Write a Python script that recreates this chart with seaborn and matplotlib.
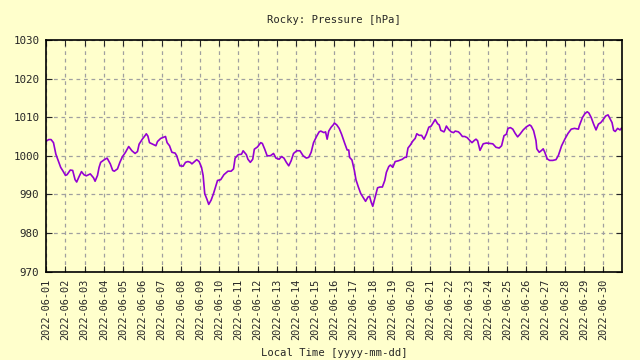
import pandas as pd
import numpy as np
import matplotlib
matplotlib.use('Agg')
import matplotlib.pyplot as plt
import matplotlib.dates as mdates
import seaborn as sns

# hours since 2022-06-01 00:00 and pressure
hours = [0, 3, 6, 9, 12, 15, 18, 21, 24, 26, 30, 33, 36, 38, 41, 44, 47, 50, 55, 59,
         61, 64, 66, 68, 72, 76, 80, 83, 85, 89, 92, 95, 99, 103, 107, 111, 114, 116, 120, 123,
         125, 127, 129, 133, 137, 139, 143, 149, 151, 154, 157, 161, 163, 167, 171, 174, 177, 180, 182, 188,
         191, 194, 196, 198, 201, 203, 206, 209, 212, 214, 218, 222, 227, 231, 234, 236, 240, 244, 246, 250,
         252, 255, 258, 260, 264, 268, 270, 273, 276, 280, 284, 287, 291, 294, 297, 300, 303, 306, 309, 313,
         317, 321, 325, 328, 331, 334, 338, 341, 343, 347, 349, 351, 353, 356, 359, 360, 363, 366, 369, 373,
         376, 378, 379, 382, 385, 387, 390, 393, 396, 399, 402, 404, 406, 408, 411, 414, 417, 420, 423, 425,
         428, 430, 433, 436, 440, 445, 448, 450, 452, 455, 458, 461, 463, 466, 469, 472, 475, 478, 481, 485,
         486, 489, 491, 493, 497, 498, 500, 503, 506, 509, 511, 515, 517, 520, 523, 526, 530, 532, 535, 537,
         539, 542, 546, 550, 554, 558, 562, 566, 569, 572, 575, 577, 580, 583, 586, 589, 592, 596, 600, 604,
         606, 609, 612, 613, 616, 619, 621, 623, 626, 629, 633, 637, 640, 644, 648, 652, 656, 660, 665, 666,
         670, 673, 676, 678, 681, 684, 687, 690, 693, 696, 699, 702, 705, 707, 709, 711, 714, 717, 719]
pressure = [1003.8, 1004.2, 1004.2, 1003.4, 1000.4, 998.7, 997.0, 996.0, 994.9, 995.1, 996.3, 996.2, 993.8, 993.2, 994.6, 995.9, 995.1, 994.8, 995.3, 994.3,
            993.4, 994.9, 997.0, 998.3, 998.9, 999.4, 997.9, 996.2, 996.0, 996.6, 998.3, 999.7, 1000.9, 1002.4, 1001.3, 1000.6, 1001.1, 1003.0, 1004.3, 1005.1,
            1005.7, 1005.1, 1003.4, 1003.0, 1002.6, 1003.7, 1004.5, 1005.0, 1003.4, 1002.6, 1000.9, 1000.7, 1000.0, 997.4, 997.3, 998.3, 998.5, 998.3, 997.9, 999.0,
            998.5, 997.0, 994.9, 990.2, 988.6, 987.4, 988.5, 990.2, 992.3, 993.6, 993.8, 995.1, 996.0, 996.0, 996.6, 999.4, 1000.3, 1000.4, 1001.3, 1000.3,
            999.1, 998.3, 999.1, 1001.7, 1002.3, 1003.4, 1003.2, 1001.7, 1000.0, 1000.0, 1000.6, 999.4, 999.1, 999.8, 999.4, 998.3, 997.4, 998.7, 1000.6, 1001.3,
            1001.3, 1000.0, 999.4, 999.6, 1000.9, 1003.4, 1005.1, 1006.2, 1006.4, 1006.0, 1006.2, 1004.3, 1006.4, 1007.4, 1008.1, 1008.5, 1008.0, 1007.1, 1005.6, 1003.2,
            1001.5, 1001.5, 999.6, 998.9, 996.2, 993.8, 991.9, 990.2, 989.2, 988.2, 989.3, 989.5, 988.0, 986.9, 989.3, 991.7, 991.9, 991.9, 993.6, 995.7,
            997.2, 997.6, 997.0, 998.5, 998.7, 999.1, 999.6, 999.6, 1002.0, 1002.8, 1003.8, 1004.5, 1005.7, 1005.3, 1005.3, 1004.3, 1005.6, 1007.4, 1007.7, 1009.1,
            1009.4, 1008.3, 1008.0, 1006.6, 1006.2, 1006.6, 1007.7, 1006.8, 1006.2, 1006.0, 1006.4, 1006.2, 1005.8, 1005.0, 1005.0, 1004.7, 1003.8, 1003.4, 1004.0, 1004.3,
            1003.9, 1001.4, 1003.1, 1003.3, 1003.2, 1003.1, 1002.2, 1002.0, 1002.6, 1005.2, 1005.6, 1007.1, 1007.3, 1006.9, 1005.8, 1004.9, 1005.6, 1006.7, 1007.5, 1008.0,
            1007.7, 1006.5, 1003.9, 1001.8, 1000.9, 1001.4, 1001.8, 1000.9, 999.2, 998.8, 998.8, 999.0, 1000.1, 1002.6, 1004.3, 1005.8, 1006.9, 1007.1, 1006.9, 1007.7,
            1009.9, 1010.9, 1011.4, 1011.1, 1009.9, 1008.2, 1006.7, 1008.2, 1008.6, 1009.4, 1010.3, 1010.6, 1009.4, 1008.6, 1006.6, 1006.3, 1007.1, 1006.7, 1007.2]

start = pd.Timestamp('2022-06-01 00:00')
df = pd.DataFrame({'time': start + pd.to_timedelta(hours, unit='h'), 'pressure': pressure})

bg = '#ffffcc'
sns.set_style('ticks', {'axes.facecolor': bg, 'figure.facecolor': bg})
plt.rcParams['font.family'] = ['DejaVu Sans Mono']

fig = plt.figure(figsize=(6.4, 3.6), dpi=100)
ax = fig.add_axes([0.0723, 0.2458, 0.899, 0.643])
sns.lineplot(data=df, x='time', y='pressure', ax=ax, color='#9400d3', linewidth=1.2)

ax.set_ylim(970, 1030)
ax.set_yticks(range(970, 1031, 10))
ax.set_xlim(start, pd.Timestamp('2022-06-30 23:00'))
ax.xaxis.set_major_locator(mdates.DayLocator())
ax.xaxis.set_major_formatter(mdates.DateFormatter('%Y-%m-%d'))
plt.setp(ax.get_xticklabels(), rotation=90, fontsize=7.4)
plt.setp(ax.get_yticklabels(), fontsize=7.8)
ax.tick_params(direction='in', length=4, width=0.8, top=True, right=True, pad=5)

ax.grid(True, color='#a0a0a0', linestyle=(0, (3, 3)), linewidth=0.9)
for s in ax.spines.values():
    s.set_visible(True)
    s.set_linewidth(1.2)
    s.set_color('black')

ax.set_title('Rocky: Pressure [hPa]', fontsize=7.6, pad=12)
ax.set_xlabel('Local Time [yyyy-mm-dd]', fontsize=7.6, labelpad=6)
ax.set_ylabel('')

fig.savefig('out.png', dpi=100, facecolor=bg)
